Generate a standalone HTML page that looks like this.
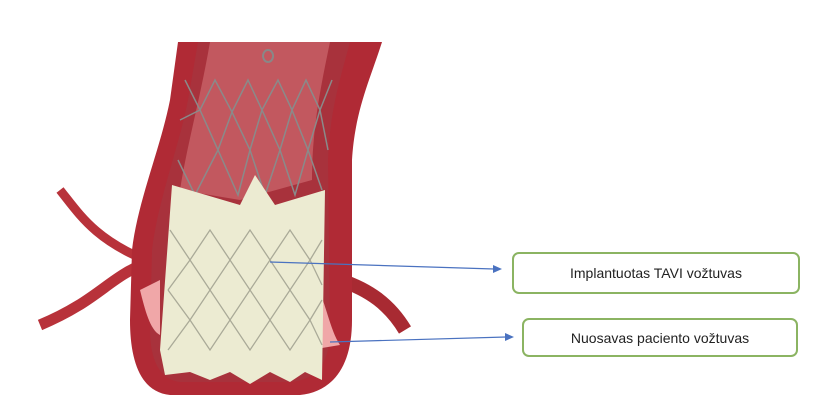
<!DOCTYPE html>
<html><head><style>
html,body{margin:0;padding:0;background:#fff;width:840px;height:416px;overflow:hidden}
.box{position:absolute;border:2px solid #8bb462;border-radius:7px;background:#fff;font-family:"Liberation Sans",sans-serif;font-size:14px;color:#222;display:flex;align-items:center;justify-content:center;box-sizing:border-box}
</style></head><body>
<svg width="840" height="416" style="position:absolute;left:0;top:0">
<!-- side arteries -->
<path d="M60,190 C80,215 95,240 150,262" stroke="#b8323a" stroke-width="9" fill="none"/>
<path d="M150,262 C110,275 100,300 40,325" stroke="#b8323a" stroke-width="11" fill="none"/>
<path d="M340,280 C370,290 390,305 405,330" stroke="#a82a32" stroke-width="14" fill="none"/>
<!-- aorta outer -->
<path d="M178,42 L382,42 C370,80 355,110 352,160 L352,320 C352,370 330,392 300,395 L170,395 C140,392 130,360 130,320 L132,250 C138,200 160,150 170,100 Z" fill="#b02a35"/>
<!-- inner lumen -->
<path d="M198,42 L350,42 C340,80 330,110 328,160 L330,330 C330,365 315,380 290,382 L180,382 C160,380 150,360 150,330 L152,250 C158,200 178,150 188,100 Z" fill="#a8323c"/>
<path d="M210,42 L330,42 C320,90 312,130 312,180 L240,200 L180,190 C188,140 200,100 210,42Z" fill="#c2585f"/>
<!-- pink walls -->
<path d="M140,290 C145,310 150,330 160,335 L160,280 Z" fill="#f0a7a8"/>
<path d="M318,290 C325,300 330,330 340,345 L322,348 Z" fill="#f0a7a8"/>
<!-- stent lattice top -->
<g stroke="#8a8a8a" stroke-width="1.5" fill="none">
<path d="M185,80 L200,110 L215,80 L232,112 L248,80 L262,110 L278,80 L292,110 L306,80 L320,110 L332,80"/>
<path d="M180,120 L200,110 L218,150 L232,112 L250,150 L262,110 L280,150 L292,110 L308,150 L320,110 L328,150"/>
<path d="M178,160 L195,195 L218,150 L238,195 L250,150 L265,195 L280,150 L295,195 L308,150 L322,190"/>
</g>
<!-- cream skirt -->
<path d="M172,185 L240,205 L255,175 L275,205 L325,190 L322,380 L305,372 L290,382 L270,372 L250,384 L230,372 L210,380 L190,372 L165,375 L160,350 Z" fill="#ecebd2"/>
<g stroke="#9a9a8a" stroke-width="1.3" fill="none" opacity="0.8">
<path d="M170,230 L190,260 L210,230 L230,260 L250,230 L270,260 L290,230 L310,260 L322,240"/>
<path d="M168,290 L190,260 L210,290 L230,260 L250,290 L270,260 L290,290 L310,260 L322,285"/>
<path d="M168,290 L190,320 L210,290 L230,320 L250,290 L270,320 L290,290 L310,320 L322,300"/>
<path d="M168,350 L190,320 L210,350 L230,320 L250,350 L270,320 L290,350 L310,320 L322,345"/>
</g>
<path d="M268,62 a5,6 0 1,1 0.1,0" stroke="#888" stroke-width="2" fill="none"/>
<!-- arrows -->
<g stroke="#4a72c0" stroke-width="1.2" fill="#4a72c0">
<line x1="270" y1="262" x2="494" y2="269"/>
<polygon points="502,269 493,265 493,273" stroke="none"/>
<line x1="330" y1="342" x2="506" y2="337"/>
<polygon points="514,337 505,333 505,341" stroke="none"/>
</g>
</svg>
<div class="box" style="left:512px;top:252px;width:288px;height:42px">Implantuotas TAVI vožtuvas</div>
<div class="box" style="left:522px;top:318px;width:276px;height:39px">Nuosavas paciento vožtuvas</div>
</body></html>
